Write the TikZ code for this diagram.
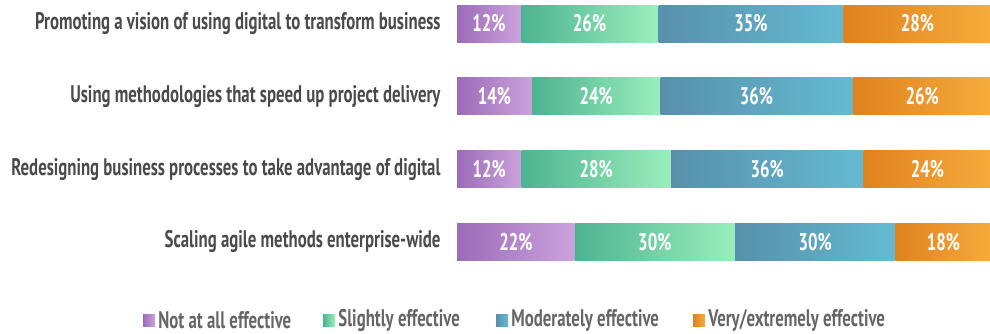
\documentclass[tikz,border=0pt]{standalone}
\usepackage{fontspec}
\setmainfont[FakeStretch=0.70]{PT Sans}
\usetikzlibrary{positioning}

\definecolor{notL}{HTML}{9C6BB8}
\definecolor{notR}{HTML}{CBA2DC}
\definecolor{sliL}{HTML}{4DB391}
\definecolor{sliR}{HTML}{9AEEBC}
\definecolor{modL}{HTML}{5890AB}
\definecolor{modR}{HTML}{64BAD2}
\definecolor{verL}{HTML}{E0821E}
\definecolor{verR}{HTML}{F6AB3B}
\definecolor{labelgray}{HTML}{4A4A4A}

\begin{document}
\begin{tikzpicture} [x=1pt, y=-1pt, font=\bfseries\fontsize{24}{26}\selectfont,
        seg/.style={anchor=west, minimum height=37pt, inner sep=0pt, text=white},
        rowlabel/.style={anchor=east, text=labelgray},
        key/.style={minimum size=12pt, inner sep=0pt},
        keytext/.style={right=3pt of #1, text=labelgray!85, inner sep=0pt}]
    \useasboundingbox (0, 0) rectangle (990, 333);
    \foreach \lbl/\va/\vb/\vc/\vd [count=\r] in {
        Promoting a vision of using digital to transform business/12/26/35/28,
        Using methodologies that speed up project delivery/14/24/36/26,
        Redesigning business processes to take advantage of digital/12/28/36/24,
        Scaling agile methods enterprise-wide/22/30/30/18}
    {
        \pgfmathsetmacro{\ybar}{23.5+72.8*(\r-1)}
        \pgfmathsetmacro{\total}{\va+\vb+\vc+\vd}
        \pgfmathsetmacro{\wnot}{\va/\total*533}
        \pgfmathsetmacro{\wsli}{\vb/\total*533}
        \pgfmathsetmacro{\wmod}{\vc/\total*533}
        \pgfmathsetmacro{\wver}{\vd/\total*533}
        \node [seg, left color=notL, right color=notR, minimum width=\wnot pt] (not\r) at (457, \ybar) {\va\%};
        \node [seg, left color=sliL, right color=sliR, minimum width=\wsli pt] (sli\r) at (not\r.east) {\vb\%};
        \node [seg, left color=modL, right color=modR, minimum width=\wmod pt] (mod\r) at (sli\r.east) {\vc\%};
        \node [seg, left color=verL, right color=verR, minimum width=\wver pt] (ver\r) at (mod\r.east) {\vd\%};
        \node [rowlabel, left=13pt of not\r] (lbl\r) {\lbl};
    }
    % legend
    \node [key, left color=notL, right color=notR] (knot) at (149, 320) {};
    \node [keytext=knot] (tnot) {Not at all effective};
    \node [key, left color=sliL, right color=sliR] (ksli) at (329, 320) {};
    \node [keytext=ksli] (tsli) {Slightly effective};
    \node [key, left color=modL, right color=modR] (kmod) at (502, 320) {};
    \node [keytext=kmod] (tmod) {Moderately effective};
    \node [key, left color=verL, right color=verR] (kver) at (699, 320) {};
    \node [keytext=kver] (tver) {Very/extremely effective};
\end{tikzpicture}
\end{document}
